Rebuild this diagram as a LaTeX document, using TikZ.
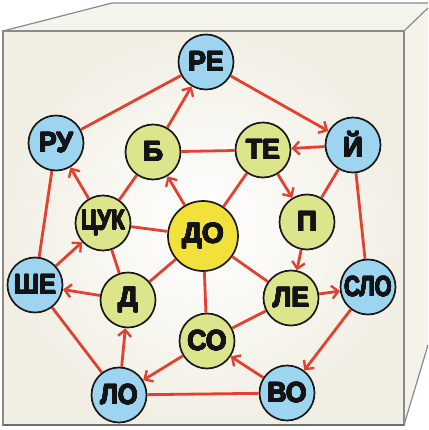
\documentclass[tikz,border=0pt]{standalone}
\usepackage{fontspec}
\setmainfont{Liberation Sans}
\usepackage{contour}
\contourlength{0.5pt}
\contournumber{16}
\usetikzlibrary{arrows.meta}
\definecolor{cream}{HTML}{F1EFE4}
\definecolor{edgegray}{HTML}{8A8A8A}
\definecolor{nblue}{HTML}{9DD4EF}
\definecolor{ngreen}{HTML}{DCE58C}
\definecolor{nyellow}{HTML}{F2E13A}
\definecolor{lred}{HTML}{E4402F}
\definecolor{inkc}{HTML}{141414}
\tikzset{
  ball/.style={circle, draw=black!90, line width=1.7pt, minimum size=55pt, inner sep=0pt, font=\bfseries\fontsize{28}{28}\selectfont, text=inkc},
  blueball/.style={ball, fill=nblue},
  greenball/.style={ball, fill=ngreen},
  bigball/.style={ball, fill=nyellow, minimum size=70pt},
  link/.style={draw=lred, line width=2.8pt},
  arr/.style={link, -{Straight Barb[length=6.5pt,width=13pt,line width=2.4pt]}},
  boxline/.style={draw=edgegray, line width=1.2pt}
}
\newcommand{\lbl}[2][1]{\scalebox{#1}[1]{\contour{inkc}{#2}}}
\begin{document}
\begin{tikzpicture}[x=1pt,y=-1pt]
\useasboundingbox (0,0) rectangle (428,430);
% top face
\fill[cream!70!white] (3,31) -- (112,3) -- (428,3) -- (428,8) -- (404,31) -- cycle;
\draw[boxline] (3,31) -- (112,3) -- (428,3);
% right face
\fill[cream!80!white] (404,31) -- (428,8) -- (428,345) -- (404,425) -- cycle;
\draw[boxline] (404,31) -- (428,8);
\draw[boxline] (404,425) -- (428,345);
% front face
\shade[inner color=white, outer color=cream] (3,31) rectangle (404,425);
\draw[boxline] (3,31) rectangle (404,425);
\draw[draw=edgegray!80!black, line width=1.8pt] (3,425) -- (404,425);
% nodes
\node[blueball] (re) at (206,62) {\lbl[0.95]{РЕ}};
\node[blueball] (j) at (353,145) {\lbl{Й}};
\node[blueball] (ru) at (56,143) {\lbl[0.95]{РУ}};
\node[blueball] (she) at (35,285) {\lbl[0.9]{ШЕ}};
\node[blueball] (slo) at (368,287) {\lbl[0.78]{СЛО}};
\node[blueball] (lo) at (119,395) {\lbl[0.9]{ЛО}};
\node[blueball] (vo) at (287,393) {\lbl[0.95]{ВО}};
\node[greenball] (b) at (153,152) {\lbl{Б}};
\node[greenball] (te) at (263,150) {\lbl[0.95]{ТЕ}};
\node[greenball] (tsuk) at (103,223) {\lbl[0.8]{ЦУК}};
\node[greenball] (p) at (307,222) {\lbl{П}};
\node[greenball] (d) at (128,300) {\lbl{Д}};
\node[greenball] (le) at (291,298) {\lbl[0.95]{ЛЕ}};
\node[greenball] (so) at (207,341) {\lbl[0.95]{СО}};
\node[bigball] (do) at (203,236) {\lbl{ДО}};
% connectors
\draw[link] (ru) -- (re);
\draw[arr] (b) -- (re);
\draw[arr] (re) -- (j);
\draw[arr] (j) -- (te);
\draw[link] (b) -- (te);
\draw[arr] (te) -- (p);
\draw[arr] (do) -- (b);
\draw[link] (do) -- (te);
\draw[link] (b) -- (tsuk);
\draw[arr] (tsuk) -- (ru);
\draw[link] (tsuk) -- (do);
\draw[link] (ru) -- (she);
\draw[arr] (she) -- (tsuk);
\draw[link] (tsuk) -- (d);
\draw[arr] (d) -- (she);
\draw[link] (do) -- (d);
\draw[link] (do) -- (so);
\draw[link] (do) -- (le);
\draw[link] (j) -- (p);
\draw[link] (j) -- (slo);
\draw[arr] (p) -- (le);
\draw[arr] (le) -- (slo);
\draw[arr] (slo) -- (vo);
\draw[arr] (vo) -- (so);
\draw[link] (le) -- (so);
\draw[arr] (so) -- (lo);
\draw[arr] (lo) -- (d);
\draw[link] (she) -- (lo);
\draw[link] (lo) -- (vo);
\end{tikzpicture}
\end{document}
